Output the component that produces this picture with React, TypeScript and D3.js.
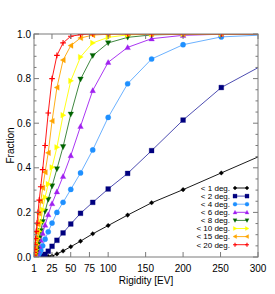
import React from "react";
import * as d3 from "d3";

// rigidity sample points (EV)
const rigidity = [1, 1.26, 1.58, 2, 2.51, 3.16, 3.98, 5.01, 6.31, 7.94, 10, 12.6, 15.8, 20, 25.1, 31.6, 39.8, 50.1, 63.1, 79.4, 100, 126, 158, 200, 251, 316];

const frac1 = [0, 0, 0, 0, 0, 0, 0, 0, 0, 0, 0, 0, 0.001, 0.002, 0.004, 0.014, 0.027, 0.046, 0.071, 0.104, 0.141, 0.188, 0.243, 0.302, 0.377, 0.472];
const frac2 = [0, 0, 0, 0, 0, 0, 0, 0, 0, 0.001, 0.002, 0.004, 0.012, 0.026, 0.048, 0.075, 0.108, 0.148, 0.196, 0.245, 0.305, 0.375, 0.477, 0.614, 0.76, 0.878];
const frac4 = [0, 0, 0, 0, 0, 0, 0.001, 0.003, 0.006, 0.016, 0.03, 0.05, 0.08, 0.113, 0.152, 0.2, 0.245, 0.303, 0.377, 0.48, 0.626, 0.777, 0.888, 0.952, 0.987, 0.997];
const frac6 = [0, 0, 0, 0, 0.001, 0.003, 0.007, 0.016, 0.029, 0.048, 0.075, 0.106, 0.143, 0.19, 0.24, 0.293, 0.362, 0.455, 0.586, 0.747, 0.873, 0.94, 0.979, 0.994, 0.999, 1];
const frac8 = [0, 0, 0, 0.002, 0.004, 0.009, 0.02, 0.034, 0.056, 0.085, 0.118, 0.158, 0.205, 0.258, 0.318, 0.395, 0.494, 0.64, 0.797, 0.903, 0.96, 0.985, 0.996, 0.999, 1, 1];
const frac10 = [0, 0, 0.002, 0.004, 0.009, 0.02, 0.034, 0.055, 0.083, 0.115, 0.155, 0.212, 0.268, 0.327, 0.402, 0.492, 0.636, 0.79, 0.897, 0.96, 0.985, 0.996, 0.999, 1, 1, 1];
const frac15 = [0.001, 0.003, 0.008, 0.018, 0.032, 0.052, 0.08, 0.11, 0.147, 0.195, 0.25, 0.31, 0.38, 0.467, 0.61, 0.76, 0.883, 0.948, 0.982, 0.995, 0.999, 1, 1, 1, 1, 1];
const frac20 = [0.004, 0.009, 0.02, 0.034, 0.055, 0.083, 0.115, 0.152, 0.2, 0.255, 0.315, 0.392, 0.5, 0.646, 0.8, 0.904, 0.96, 0.99, 0.997, 1, 1, 1, 1, 1, 1, 1];

const labels = ["< 1 deg.", "< 2 deg.", "< 4 deg.", "< 6 deg.", "< 8 deg.", "< 10 deg.", "< 15 deg.", "< 20 deg."];
const xTicks = [1, 25, 50, 75, 100, 150, 200, 250, 300];
const yTicks = [0, 0.2, 0.4, 0.6, 0.8, 1.0];

const series = [
  { name: labels[0], values: frac1, color: "#000000", line: "#000000", shape: "diamond" },
  { name: labels[1], values: frac2, color: "#00007f", line: "#3a3aa8", shape: "square" },
  { name: labels[2], values: frac4, color: "#1e90ff", line: "#5aa8ff", shape: "circle" },
  { name: labels[3], values: frac6, color: "#a020f0", line: "#a020f0", shape: "up" },
  { name: labels[4], values: frac8, color: "#006400", line: "#2a7a2a", shape: "down" },
  { name: labels[5], values: frac10, color: "#ffff00", line: "#ffff00", shape: "right" },
  { name: labels[6], values: frac15, color: "#ffa500", line: "#ffa500", shape: "left" },
  { name: labels[7], values: frac20, color: "#ff0000", line: "#ff0000", shape: "plus" },
];

const W = 275, H = 294;
const left = 34, right = 258, top = 34, bottom = 257;
const font = "'Liberation Sans', Arial, sans-serif";

function markerPath(shape: string, r: number) {
  switch (shape) {
    case "diamond": return `M0,${-r}L${r},0L0,${r}L${-r},0Z`;
    case "square": return `M${-r},${-r}h${2 * r}v${2 * r}h${-2 * r}Z`;
    case "circle": return d3.symbol(d3.symbolCircle, Math.PI * r * r)() as string;
    case "up": return `M0,${-r}L${r},${r * 0.8}L${-r},${r * 0.8}Z`;
    case "down": return `M0,${r}L${r},${-r * 0.8}L${-r},${-r * 0.8}Z`;
    case "right": return `M${r},0L${-r * 0.8},${r}L${-r * 0.8},${-r}Z`;
    case "left": return `M${-r},0L${r * 0.8},${r}L${r * 0.8},${-r}Z`;
    default: return `M${-r},0H${r}M0,${-r}V${r}`;
  }
}

function Marker({ shape, color, x, y, r }: any) {
  const plus = shape === "plus";
  return (
    <path
      transform={`translate(${x},${y})`}
      d={markerPath(shape, r)}
      fill={plus ? "none" : color}
      stroke={color}
      strokeWidth={plus ? 1.1 : 0.3}
    />
  );
}

export default function App() {
  const x = d3.scaleLinear().domain([1, 300]).range([left, right]);
  const y = d3.scaleLinear().domain([0, 1]).range([bottom, top]);
  const line = d3.line<number>().x((_, i) => x(rigidity[i])).y((d) => y(d));
  const minorY = d3.range(0, 1.0001, 0.05);

  return (
    <svg width={W} height={H} style={{ position: "absolute", left: 0, top: 0, background: "#fff" }} fontFamily={font}>
      <defs>
        <clipPath id="plot">
          <rect x={left} y={top} width={right - left} height={bottom - top} />
        </clipPath>
      </defs>
      <rect width={W} height={H} fill="#fff" />

      <g clipPath="url(#plot)">
        {series.map((s) => (
          <g key={s.name}>
            <path d={line(s.values) as string} fill="none" stroke={s.line} strokeWidth={0.9} />
            {s.values.map((v, i) => (
              <Marker key={i} shape={s.shape} color={s.color} x={x(rigidity[i])} y={y(v)}
                r={s.shape === "diamond" ? 2.3 : s.shape === "plus" ? 2.8 : s.shape === "circle" ? 2.6 : s.shape === "square" ? 2.4 : 2.8} />
            ))}
          </g>
        ))}
      </g>

      {/* frame */}
      <rect x={left} y={top} width={right - left} height={bottom - top} fill="none" stroke="#7a7a7a" strokeWidth={1} />

      {/* y ticks, left and right */}
      {minorY.map((t, i) => {
        const major = i % 4 === 0;
        const len = major ? 5 : 2.5;
        return (
          <g key={i} stroke="#7a7a7a" strokeWidth={1}>
            <line x1={left} x2={left + len} y1={y(t)} y2={y(t)} />
            <line x1={right} x2={right - len} y1={y(t)} y2={y(t)} />
          </g>
        );
      })}
      {yTicks.map((t) => (
        <text key={t} x={31} y={y(t) + 3.6} fontSize={10} textAnchor="end" fill="#000">{t.toFixed(1)}</text>
      ))}

      {/* x ticks, bottom and top */}
      {xTicks.map((t) => (
        <g key={t}>
          <line x1={x(t)} x2={x(t)} y1={bottom} y2={bottom - 5} stroke="#7a7a7a" />
          <line x1={x(t)} x2={x(t)} y1={top} y2={top + 5} stroke="#7a7a7a" />
          <text x={x(t)} y={272} fontSize={10} textAnchor="middle" fill="#000">{t}</text>
        </g>
      ))}

      <text x={(left + right) / 2} y={284} fontSize={10} textAnchor="middle" fill="#000">Rigidity [EV]</text>
      <text transform={`translate(14,${(top + bottom) / 2}) rotate(-90)`} fontSize={10} textAnchor="middle" fill="#000">Fraction</text>

      {/* legend */}
      {series.map((s, i) => {
        const ly = 188 + i * 8.1;
        return (
          <g key={s.name}>
            <text x={230} y={ly + 2.8} fontSize={8} textAnchor="end" fill="#000">{s.name}</text>
            <line x1={235} x2={247} y1={ly} y2={ly} stroke={s.line} strokeWidth={0.9} />
            <Marker shape={s.shape} color={s.color} x={235} y={ly} r={2} />
            <Marker shape={s.shape} color={s.color} x={247} y={ly} r={2} />
          </g>
        );
      })}
    </svg>
  );
}
